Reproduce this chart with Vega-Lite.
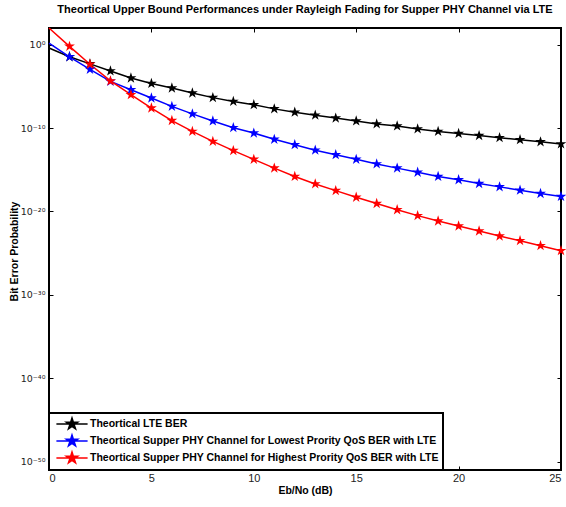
{
  "$schema": "https://vega.github.io/schema/vega-lite/v6.json",
  "width": 512,
  "height": 442,
  "autosize": "none",
  "padding": {"left": 49, "top": 28, "right": 5, "bottom": 37},
  "title": {"text": "Theortical Upper Bound Performances under Rayleigh Fading for Supper PHY Channel via LTE", "font": "Liberation Sans", "fontSize": 11, "fontWeight": "bold", "color": "black", "anchor": "middle", "offset": 10},
  "config": {
    "font": "Liberation Sans",
    "view": {"stroke": "black", "strokeWidth": 2},
    "axis": {"domain": false, "grid": false, "tickColor": "black", "tickSize": -4, "tickWidth": 1, "labelColor": "#222", "labelFont": "Liberation Sans", "labelFontSize": 11, "titleFont": "Liberation Sans", "titleFontSize": 10.5, "titleFontWeight": "bold", "titleColor": "black"},
    "legend": {"strokeWidth": 2}
  },
  "data": {"values": [
    {"x": 0, "lte": 3.98e-1, "low": 1.585, "high": 100},
    {"x": 1, "lte": 3.55e-2, "low": 3.55e-2, "high": 6.31e-1},
    {"x": 2, "lte": 5.01e-3, "low": 1.12e-3, "high": 4.47e-3},
    {"x": 3, "lte": 7.08e-4, "low": 3.98e-5, "high": 4.47e-5},
    {"x": 4, "lte": 1e-4, "low": 3.98e-6, "high": 1e-6},
    {"x": 5, "lte": 2.24e-5, "low": 3.98e-7, "high": 2.51e-8},
    {"x": 6, "lte": 6.31e-6, "low": 3.98e-8, "high": 7.94e-10},
    {"x": 7, "lte": 1.58e-6, "low": 5.01e-9, "high": 3.98e-11},
    {"x": 8, "lte": 4.47e-7, "low": 7.08e-10, "high": 2.51e-12},
    {"x": 9, "lte": 1.58e-7, "low": 1.12e-10, "high": 2.0e-13},
    {"x": 10, "lte": 6.31e-8, "low": 2.51e-11, "high": 1.78e-14},
    {"x": 11, "lte": 2.0e-8, "low": 4.47e-12, "high": 1.58e-15},
    {"x": 12, "lte": 7.94e-9, "low": 1e-12, "high": 1.58e-16},
    {"x": 13, "lte": 3.55e-9, "low": 2.24e-13, "high": 2.0e-17},
    {"x": 14, "lte": 1.58e-9, "low": 6.31e-14, "high": 3.16e-18},
    {"x": 15, "lte": 7.08e-10, "low": 1.78e-14, "high": 5.01e-19},
    {"x": 16, "lte": 3.16e-10, "low": 5.01e-15, "high": 8.91e-20},
    {"x": 17, "lte": 1.78e-10, "low": 1.58e-15, "high": 1.58e-20},
    {"x": 18, "lte": 7.94e-11, "low": 5.01e-16, "high": 3.16e-21},
    {"x": 19, "lte": 3.98e-11, "low": 1.58e-16, "high": 7.08e-22},
    {"x": 20, "lte": 2.24e-11, "low": 6.31e-17, "high": 1.78e-22},
    {"x": 21, "lte": 1.26e-11, "low": 2.24e-17, "high": 4.47e-23},
    {"x": 22, "lte": 7.08e-12, "low": 8.91e-18, "high": 1.12e-23},
    {"x": 23, "lte": 3.98e-12, "low": 3.55e-18, "high": 3.16e-24},
    {"x": 24, "lte": 2.24e-12, "low": 1.41e-18, "high": 7.94e-25},
    {"x": 25, "lte": 1.26e-12, "low": 6.31e-19, "high": 2.0e-25}
  ]},
  "transform": [{"fold": ["lte", "low", "high"], "as": ["series", "ber"]}],
  "encoding": {
    "x": {"field": "x", "type": "quantitative", "scale": {"domain": [0, 25], "nice": false, "zero": false}},
    "y": {"field": "ber", "type": "quantitative", "scale": {"type": "log", "domain": [1e-51, 100], "nice": false}},
    "color": {"field": "series", "type": "nominal",
      "scale": {"domain": ["lte", "low", "high"], "range": ["#000000", "#0000ff", "#ff0000"]},
      "legend": {"title": null, "orient": "bottom-left", "offset": 0, "strokeColor": "black", "fillColor": "white", "padding": 4, "rowPadding": 0, "labelFont": "Liberation Sans", "labelFontSize": 10.5, "labelFontWeight": "bold", "labelColor": "black", "labelLimit": 600, "symbolSize": 144, "symbolStrokeWidth": 1.5, "symbolOffset": 12, "labelOffset": 11,
        "symbolType": "M-2.6,0H2.6M0,-1L0.2245,-0.309L0.951,-0.309L0.363,0.118L0.588,0.809L0,0.382L-0.588,0.809L-0.363,0.118L-0.951,-0.309L-0.2245,-0.309Z",
        "labelExpr": "{'lte':'Theortical LTE BER','low':'Theortical Supper PHY Channel for Lowest Prority QoS BER with LTE','high':'Theortical Supper PHY Channel for Highest Prority QoS BER with LTE'}[datum.label]"}
    }
  },
  "layer": [
    {"mark": {"type": "line", "strokeWidth": 1.5},
     "encoding": {
       "x": {"field": "x", "type": "quantitative", "axis": {"orient": "top", "values": [0, 5, 10, 15, 20, 25], "labels": false, "title": null}},
       "y": {"field": "ber", "type": "quantitative", "axis": {"orient": "right", "values": [1, 1e-10, 1e-20, 1e-30, 1e-40, 1e-50], "labels": false, "title": null}}
     }},
    {"transform": [{"filter": "datum.x > 0"}],
     "mark": {"type": "point", "filled": true, "opacity": 1, "size": 130,
       "shape": "M0,-1L0.2245,-0.309L0.951,-0.309L0.363,0.118L0.588,0.809L0,0.382L-0.588,0.809L-0.363,0.118L-0.951,-0.309L-0.2245,-0.309Z"},
     "encoding": {
       "x": {"field": "x", "type": "quantitative", "axis": {"orient": "bottom", "values": [0, 5, 10, 15, 20, 25], "title": "Eb/No (dB)", "labelPadding": 6, "titlePadding": 2}},
       "y": {"field": "ber", "type": "quantitative", "axis": {"orient": "left", "values": [1, 1e-10, 1e-20, 1e-30, 1e-40, 1e-50], "title": "Bit Error Probability", "labelPadding": 8, "titleX": -35, "titleY": 223, "titleAlign": "center", "titleBaseline": "middle", "titleAngle": -90, "labelFont": "DejaVu Sans", "labelFontSize": 9.5,
         "labelExpr": "{'0':'10⁰','-10':'10⁻¹⁰','-20':'10⁻²⁰','-30':'10⁻³⁰','-40':'10⁻⁴⁰','-50':'10⁻⁵⁰'}['' + round(log(datum.value)/LN10)]"}}
     }}
  ]
}
